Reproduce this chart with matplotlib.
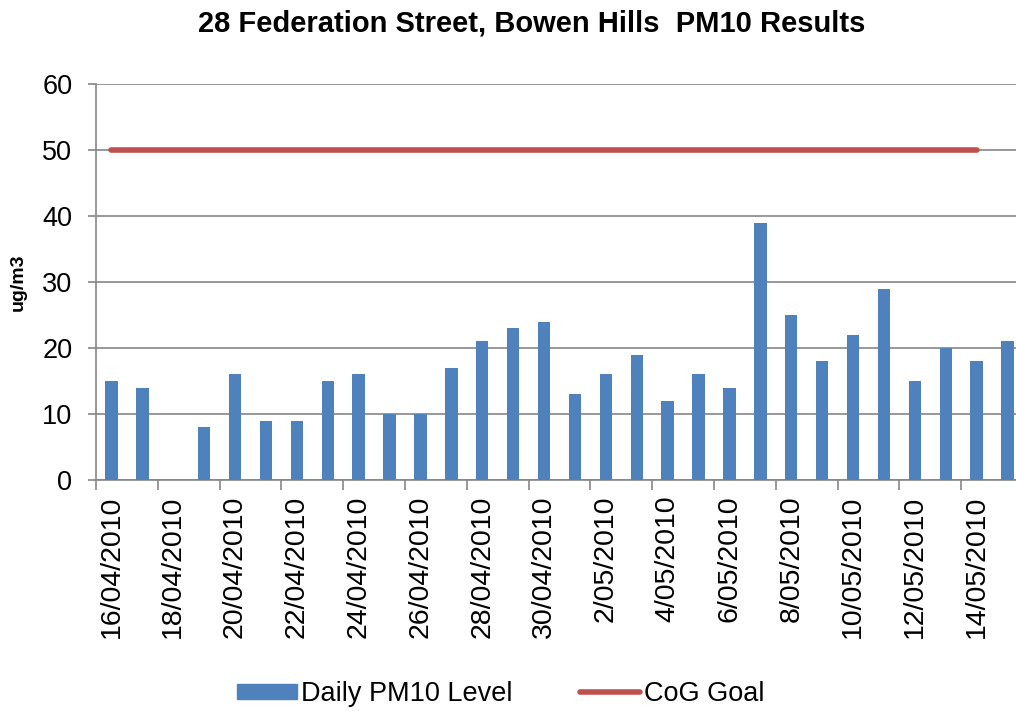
import numpy as np
import matplotlib
matplotlib.use('Agg')
import matplotlib.pyplot as plt
from matplotlib.patches import Patch
from matplotlib.lines import Line2D

plt.rcParams['font.family'] = ['Liberation Sans', 'DejaVu Sans']

# data
dates = ['16/04/2010', '17/04/2010', '18/04/2010', '19/04/2010', '20/04/2010',
         '21/04/2010', '22/04/2010', '23/04/2010', '24/04/2010', '25/04/2010',
         '26/04/2010', '27/04/2010', '28/04/2010', '29/04/2010', '30/04/2010',
         '1/05/2010', '2/05/2010', '3/05/2010', '4/05/2010', '5/05/2010',
         '6/05/2010', '7/05/2010', '8/05/2010', '9/05/2010', '10/05/2010',
         '11/05/2010', '12/05/2010', '13/05/2010', '14/05/2010', '15/05/2010']
pm10 = [15, 14, np.nan, 8, 16, 9, 9, 15, 16, 10,
        10, 17, 21, 23, 24, 13, 16, 19, 12, 16,
        14, 39, 25, 18, 22, 29, 15, 20, 18, 21]
goal = [50, 50, 50, 50, 50, 50, 50, 50, 50, 50,
        50, 50, 50, 50, 50, 50, 50, 50, 50, 50,
        50, 50, 50, 50, 50, 50, 50, 50, 50, np.nan]

blue = '#4F81BD'
red = '#C0504D'
grey = '#868686'

fig = plt.figure(figsize=(10.16, 7.11), dpi=100)
ax = fig.add_axes([96 / 1016, 1 - 480 / 711, 927 / 1016, 396 / 711])

x = np.arange(len(dates))
ax.bar(x, pm10, width=0.4, color=blue, zorder=3)
ax.plot(x, goal, color=red, lw=4, solid_capstyle='round', zorder=4)

ax.set_xlim(-0.5, len(dates) - 0.5)
ax.set_ylim(0, 60)
ax.set_yticks(range(0, 61, 10))
ax.grid(axis='y', color=grey, lw=1.2, zorder=0)

# ticks on category boundaries, labels on every second category
ax.set_xticks(np.arange(-0.5, len(dates), 2))
ax.set_xticklabels([])
ax.set_xticks(x[::2], minor=True)
ax.set_xticklabels(dates[::2], minor=True, rotation=90)
ax.tick_params(axis='x', which='major', length=7, width=1.2, color=grey, direction='out')
ax.tick_params(axis='x', which='minor', length=0, pad=11, labelsize=20.5)
ax.tick_params(axis='y', length=6, width=1.2, color=grey, pad=11, labelsize=19.5)

for s in ['top', 'right']:
    ax.spines[s].set_visible(False)
for s in ['left', 'bottom']:
    ax.spines[s].set_color(grey)
    ax.spines[s].set_linewidth(1.2)

fig.text(18 / 1016, 1 - 282 / 711, 'ug/m3', rotation=90, ha='center', va='center',
         fontsize=14, fontweight='bold')
fig.text(532 / 1016, 1 - 23 / 711, '28 Federation Street, Bowen Hills  PM10 Results',
         ha='center', va='center', fontsize=21, fontweight='bold')

handles = [Patch(color=blue), Line2D([], [], color=red, lw=4, solid_capstyle='round')]
fig.legend(handles, ['Daily PM10 Level', 'CoG Goal'], loc='center',
           bbox_to_anchor=(501 / 1016, 1 - 694 / 711), ncol=2, frameon=False,
           fontsize=19.5, handlelength=2.2, handleheight=0.5, handletextpad=0.15,
           columnspacing=2.5)

fig.savefig('out.png', dpi=100)
